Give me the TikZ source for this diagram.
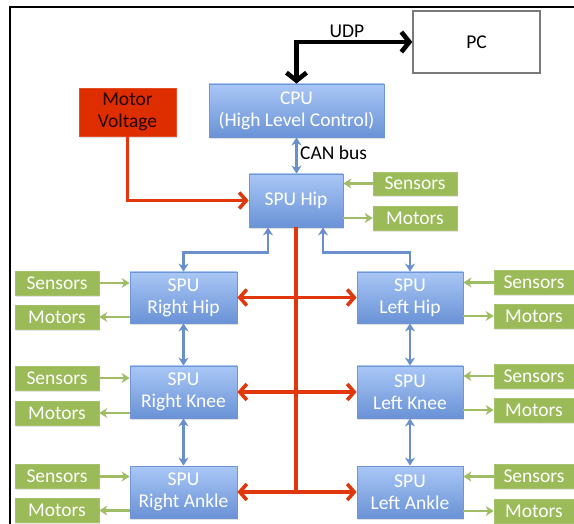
\documentclass[tikz,border=0pt]{standalone}
\usepackage{fontspec}
\setmainfont{Carlito}
\usetikzlibrary{arrows.meta,shadows,calc}
\definecolor{bluetop}{HTML}{A9C7F6}
\definecolor{bluebot}{HTML}{6A92D6}
\definecolor{blueline}{HTML}{6F96D2}
\definecolor{bluearrow}{HTML}{6A90CC}
\definecolor{greenfill}{HTML}{9BBB59}
\definecolor{greenarrow}{HTML}{A0BD66}
\definecolor{redline}{HTML}{E0380C}
\definecolor{redfill}{HTML}{DE2E00}
\definecolor{pcborder}{HTML}{7A7A7A}
\tikzset{
  spubox/.style={draw=blueline, line width=0.8pt, top color=bluetop, bottom color=bluebot,
    text=white, align=center, inner sep=0pt,
    drop shadow={shadow xshift=1.2pt, shadow yshift=-1.8pt, opacity=0.25}},
  greenbox/.style={draw=greenfill!90!white, line width=0.6pt, fill=greenfill, text=white, inner sep=0pt,
    minimum height=24pt,
    drop shadow={shadow xshift=1.2pt, shadow yshift=-1.8pt, opacity=0.2}},
  redbox/.style={draw=redfill!85!white, line width=0.8pt, fill=redfill, text=black!85!red, align=center, inner sep=0pt,
    drop shadow={shadow xshift=1.2pt, shadow yshift=-1.8pt, opacity=0.25}},
  pcbox/.style={draw=pcborder, line width=1.4pt, fill=white, text=black, inner sep=0pt,
    drop shadow={shadow xshift=1pt, shadow yshift=-1.5pt, opacity=0.2}},
  bluearr/.style={draw=bluearrow, line width=2.3pt, {Stealth[length=8pt,width=10pt,inset=2.5pt]}-{Stealth[length=8pt,width=10pt,inset=2.5pt]}},
  greenarr/.style={draw=greenarrow, line width=2.3pt, -{Stealth[length=8pt,width=10pt,inset=2.5pt]}},
  redarr/.style={draw=redline, line width=3.6pt, {Straight Barb[length=7pt,width=16pt]}-{Straight Barb[length=7pt,width=16pt]}},
  redline/.style={draw=redline, line width=3.6pt},
  blkarr/.style={draw=black, line width=4.6pt, {Straight Barb[length=8pt,width=20pt]}-{Straight Barb[length=8pt,width=20pt]}},
  lbl/.style={text=black, inner sep=0pt}
}
\begin{document}
\begin{tikzpicture}[x=1pt,y=-1pt, font=\fontsize{19.5}{22}\selectfont]
\useasboundingbox (0,0) rectangle (574,524);
% frame
\draw[line width=2.4pt] (574,7) -- (10,7) -- (10,524);

% top nodes
\node[pcbox, minimum width=127pt, minimum height=62pt] (pc) at (476.5,42) {PC};
\node[spubox, minimum width=175pt, minimum height=53pt] (cpu) at (296.5,110.5) {CPU\\(High Level Control)};
\node[redbox, minimum width=97pt, minimum height=48pt] (mv) at (127.5,112) {Motor\\Voltage};
\node[spubox, minimum width=94pt, minimum height=53pt] (hip) at (296,200.5) {SPU Hip};
\node[greenbox, minimum width=84pt, minimum height=23pt] (ts) at (415,183.5) {Sensors};
\node[greenbox, minimum width=84pt] (tm) at (415,218) {Motors};

% SPU nodes
\node[spubox, minimum width=107pt, minimum height=51pt] (rhip) at (183.5,297.5) {SPU\\Right Hip};
\node[spubox, minimum width=106pt, minimum height=51pt] (lhip) at (410,297.5) {SPU\\Left Hip};
\node[spubox, minimum width=107pt, minimum height=52pt] (rknee) at (183.5,392) {SPU\\Right Knee};
\node[spubox, minimum width=106pt, minimum height=52pt] (lknee) at (410,392) {SPU\\Left Knee};
\node[spubox, minimum width=107pt, minimum height=52pt] (rankle) at (183.5,492) {SPU\\Right Ankle};
\node[spubox, minimum width=106pt, minimum height=52pt] (lankle) at (410,492) {SPU\\Left Ankle};

% left green
\node[greenbox, minimum width=84pt] (ls1) at (57,283) {Sensors};
\node[greenbox, minimum width=84pt] (lm1) at (57,317) {Motors};
\node[greenbox, minimum width=84pt] (ls2) at (57,378) {Sensors};
\node[greenbox, minimum width=84pt] (lm2) at (57,413) {Motors};
\node[greenbox, minimum width=84pt] (ls3) at (57,476.5) {Sensors};
\node[greenbox, minimum width=84pt] (lm3) at (57,510.5) {Motors};
% right green
\node[greenbox, minimum width=80pt] (rs1) at (534,282.5) {Sensors};
\node[greenbox, minimum width=80pt] (rm1) at (534,316) {Motors};
\node[greenbox, minimum width=80pt] (rs2) at (534,376) {Sensors};
\node[greenbox, minimum width=80pt] (rm2) at (534,410) {Motors};
\node[greenbox, minimum width=80pt] (rs3) at (534,476.5) {Sensors};
\node[greenbox, minimum width=80pt] (rm3) at (534,511) {Motors};

% black UDP
\draw[blkarr] (pc.west) -| (cpu.north);
\node[lbl] (udp) at (347,31) {UDP};

% CAN bus
\draw[bluearr] (cpu.south) -- (cpu.south |- hip.north);
\node[lbl, anchor=west] (can) at (300,153) {CAN bus};

% red
\draw[redline, -{Straight Barb[length=7pt,width=16pt]}] (mv.south) |- (hip.west);
\draw[redline] (hip.south) -- (hip.south |- rankle.east);
\draw[redarr] (rhip.east) -- (lhip.west);
\draw[redarr] (rknee.east) -- (lknee.west);
\draw[redarr] (rankle.east) -- (lankle.west);

% blue tree
\draw[bluearr] ([xshift=-28pt]hip.south) -- ++(0,25) -| (rhip.north);
\draw[bluearr] ([xshift=27pt]hip.south) -- ++(0,25) -| (lhip.north);
\draw[bluearr] (rhip.south) -- (rknee.north);
\draw[bluearr] (rknee.south) -- (rankle.north);
\draw[bluearr] (lhip.south) -- (lknee.north);
\draw[bluearr] (lknee.south) -- (lankle.north);

% green arrows
\draw[greenarr] (ts.west) -- (ts.west -| hip.east);
\draw[greenarr] (tm.west -| hip.east) -- (tm.west);
\draw[greenarr] (ls1.east) -- (ls1.east -| rhip.west);
\draw[greenarr] (lm1.east -| rhip.west) -- (lm1.east);
\draw[greenarr] (ls2.east) -- (ls2.east -| rknee.west);
\draw[greenarr] (lm2.east -| rknee.west) -- (lm2.east);
\draw[greenarr] (ls3.east) -- (ls3.east -| rankle.west);
\draw[greenarr] (lm3.east -| rankle.west) -- (lm3.east);
\draw[greenarr] (rs1.west) -- (rs1.west -| lhip.east);
\draw[greenarr] (rm1.west -| lhip.east) -- (rm1.west);
\draw[greenarr] (rs2.west) -- (rs2.west -| lknee.east);
\draw[greenarr] (rm2.west -| lknee.east) -- (rm2.west);
\draw[greenarr] (rs3.west) -- (rs3.west -| lankle.east);
\draw[greenarr] (rm3.west -| lankle.east) -- (rm3.west);
\end{tikzpicture}
\end{document}
